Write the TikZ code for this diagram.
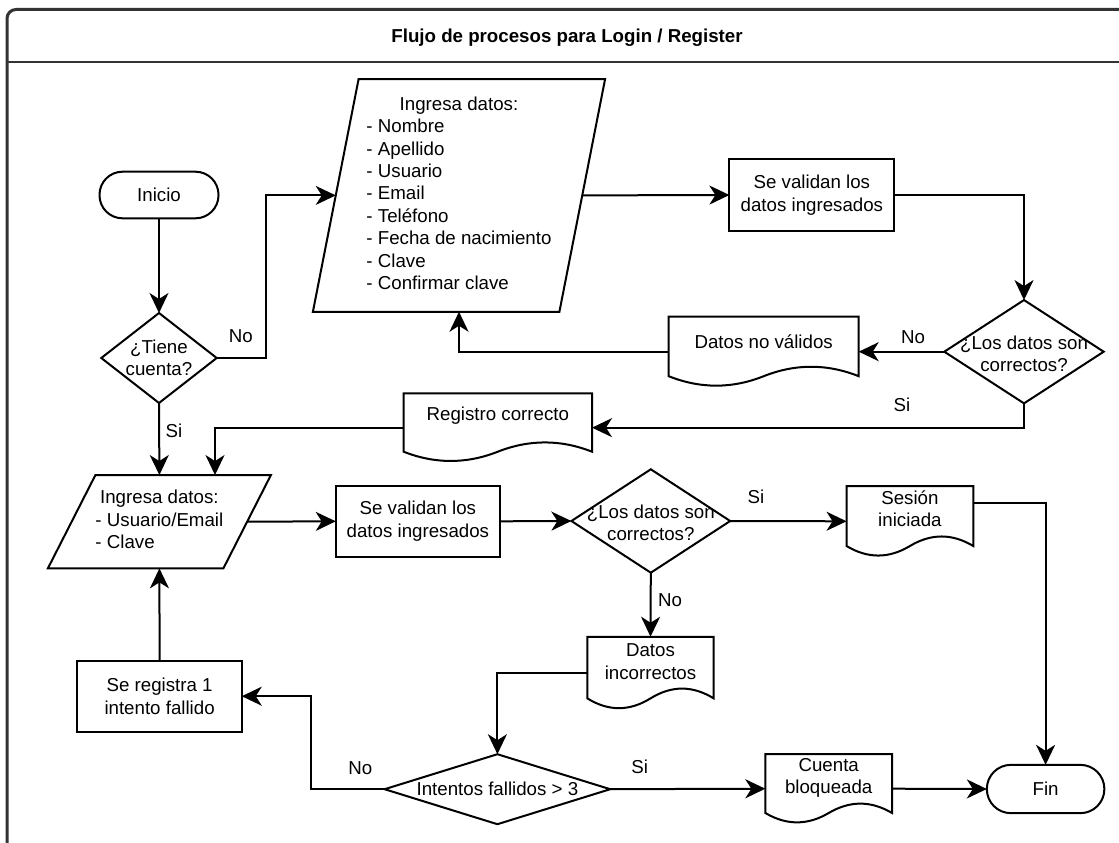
\documentclass[tikz,border=0pt]{standalone}
\usepackage{fontspec}
\setmainfont{Liberation Sans}
\usetikzlibrary{arrows.meta,calc}

\tikzset{
  ln/.style={line width=2pt, draw=black},
  flow/.style={ln, -{Stealth[length=20pt,width=19pt,inset=6pt]}},
  shapebox/.style={rectangle, inner sep=0pt, outer sep=0pt, align=center},
  boxed/.style={shapebox, ln},
  termbox/.style={shapebox, ln, rounded corners=23pt},
  lbl/.style={inner sep=0pt},
}

% outline helpers drawn from a named (invisible) rectangular node
\newcommand\diamondoutline[1]{%
  \draw[ln] (#1.north) -- (#1.east) -- (#1.south) -- (#1.west) -- cycle;}
\newcommand\paraoutline[2]{%
  \draw[ln] ($(#1.north west)+(#2,0)$) -- ($(#1.north east)+(#2,0)$)
    -- ($(#1.south east)-(#2,0)$) -- ($(#1.south west)-(#2,0)$) -- cycle;}
\newcommand\docoutline[1]{%
  \draw[ln] let \p1=(#1.north west), \p2=(#1.south east),
                \n1={\x2-\x1}, \n2={\y2-\y1} in
    (\x1,\y1) -- (\x2,\y1) -- (\x2,{\y1+0.85*\n2})
    .. controls ({\x1+0.8333*\n1},{\y1+0.67*\n2}) and ({\x1+0.6667*\n1},{\y1+0.67*\n2})
    .. ({\x1+0.5*\n1},{\y1+0.85*\n2})
    .. controls ({\x1+0.3333*\n1},{\y1+1.03*\n2}) and ({\x1+0.1667*\n1},{\y1+1.03*\n2})
    .. (\x1,{\y1+0.85*\n2}) -- cycle;}

\begin{document}
\begin{tikzpicture}[x=1pt, y=-1pt,
  every node/.append style={font=\fontsize{18.7pt}{22.4pt}\selectfont}]
\useasboundingbox (0,0) rectangle (1119,843);

% container with title bar
\draw[line width=3pt, draw=black!80, rounded corners=9pt] (7,860) -- (7,9.5) -- (1130,9.5);
\draw[line width=2.5pt, draw=black!80] (7,62) -- (1130,62);
\node[font=\fontsize{18.7pt}{22.4pt}\selectfont\bfseries] (title) at (567,38)
  {Flujo de procesos para Login / Register};

% ---------- registration branch ----------
\node[termbox, minimum width=119pt, minimum height=46.6pt] (inicio) at (159,195) {Inicio};

\node[shapebox, minimum width=115.4pt, minimum height=90pt] (d1) at (159,358) {¿Tiene\\cuenta?};
\diamondoutline{d1}

\node[shapebox, minimum width=246.5pt, minimum height=232.7pt] (para1) at (459,195.4)
  {\begin{tabular}{@{}l@{}}\multicolumn{1}{@{}c@{}}{Ingresa datos:}\\
   - Nombre\\- Apellido\\- Usuario\\- Email\\- Teléfono\\- Fecha de nacimiento\\
   - Clave\\- Confirmar clave\end{tabular}};
\paraoutline{para1}{22.85}

\node[boxed, minimum width=165pt, minimum height=71.4pt] (val1) at (811.9,195)
  {Se validan los\\datos ingresados};

\node[shapebox, minimum width=159.4pt, minimum height=103.3pt] (d2) at (1024,351.7) {};
\diamondoutline{d2}
\node[shapebox] (d2t) at (1024,354) {¿Los datos son\\correctos?};

\node[shapebox, minimum width=190pt, minimum height=70pt] (dnv) at (763.7,351.7) {};
\docoutline{dnv}
\node[shapebox] (dnvt) at ($(dnv.north)!0.357!(dnv.south)$) {Datos no válidos};

\node[shapebox, minimum width=188.4pt, minimum height=68.7pt] (reg) at (497.8,427.65) {};
\docoutline{reg}
\node[shapebox] (regt) at ($(reg.north)!0.33!(reg.south)$) {Registro correcto};

% ---------- login branch ----------
\node[shapebox, minimum width=175.5pt, minimum height=93.3pt] (para2) at (159.4,521.7)
  {\begin{tabular}{@{}l@{}}\multicolumn{1}{@{}c@{}}{Ingresa datos:}\\
   - Usuario/Email\\- Clave\end{tabular}};
\paraoutline{para2}{23.75}

\node[boxed, minimum width=164.3pt, minimum height=70.7pt] (val2) at (417.9,521.3)
  {Se validan los\\datos ingresados};

\node[shapebox, minimum width=158.8pt, minimum height=103.4pt] (d3) at (650.8,521) {};
\diamondoutline{d3}
\node[shapebox] (d3t) at (650.8,523) {¿Los datos son\\correctos?};

\node[shapebox, minimum width=126.7pt, minimum height=70.6pt] (ses) at (909.9,521.3) {};
\docoutline{ses}
\node[shapebox] (sest) at ($(ses.north)!0.323!(ses.south)$) {Sesión\\iniciada};

\node[shapebox, minimum width=126.3pt, minimum height=72.5pt] (dinc) at (650.5,673) {};
\docoutline{dinc}
\node[shapebox] (dinct) at ($(dinc.north)!0.345!(dinc.south)$) {Datos\\incorrectos};

\node[shapebox, minimum width=225.6pt, minimum height=70pt] (d4) at (497.4,789.2) {Intentos fallidos > 3};
\diamondoutline{d4}

\node[boxed, minimum width=164.3pt, minimum height=71pt] (fail) at (159.6,696.2)
  {Se registra 1\\intento fallido};

\node[shapebox, minimum width=126.7pt, minimum height=69.4pt] (cb) at (828.7,788.7) {};
\docoutline{cb}
\node[shapebox] (cbt) at ($(cb.north)!0.346!(cb.south)$) {Cuenta\\bloqueada};

\node[termbox, rounded corners=24pt, minimum width=117.5pt, minimum height=48.3pt] (fin) at (1045.6,789) {Fin};

% ---------- connectors ----------
\coordinate (regin) at ($(para2.north)+(55.6,0)$);
\coordinate (sesout) at ($(ses.north east)!0.245!(ses.south east)$);
\coordinate (retry) at ($(fail.east)+(69.6,0)$);

\draw[flow] (inicio) -- (d1);
\draw[flow] (d1.east) -| ($(d1.east)+(49,0)$) |- (para1.west);
\draw[flow] (para1.east) -- (val1.west);
\draw[flow] (val1.east) -| (d2.north);
\draw[flow] (d2.west) -- (dnv.east);
\draw[flow] (dnv.west) -| (para1.south);
\draw[flow] (d2.south) |- (reg.east);
\draw[flow] (reg.west) -| (regin);
\draw[flow] (d1.south) -- (para2.north);
\draw[flow] (para2.east) -- (val2.west);
\draw[flow] (val2.east) -- (d3.west);
\draw[flow] (d3.east) -- (ses.west);
\draw[flow] (sesout) -| (fin.north);
\draw[flow] (d3.south) -- (dinc.north);
\draw[flow] (dinc.west) -| (d4.north);
\draw[flow] (d4.west) -| (retry) -- (fail.east);
\draw[flow] (fail.north) -- (para2.south);
\draw[flow] (d4.east) -- (cb.west);
\draw[flow] (cb.east) -- (fin.west);

% branch labels
\node[lbl] (l1) at (240.7,336) {No};
\node[lbl] (l2) at (174,430.7) {Si};
\node[lbl] (l3) at (913,336.7) {No};
\node[lbl] (l4) at (902,405) {Si};
\node[lbl] (l5) at (756,497.3) {Si};
\node[lbl] (l6) at (670,600) {No};
\node[lbl] (l7) at (360.4,768.3) {No};
\node[lbl] (l8) at (639.7,766.7) {Si};
\end{tikzpicture}
\end{document}
